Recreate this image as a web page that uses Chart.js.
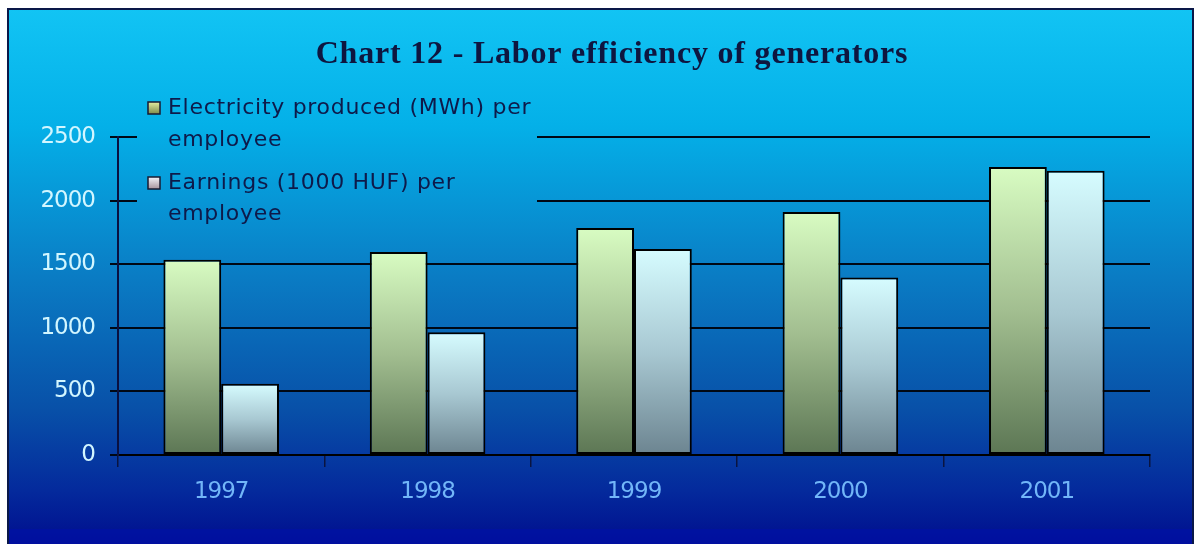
<!DOCTYPE html>
<html>
<head>
<meta charset="utf-8">
<script src="https://cdn.jsdelivr.net/npm/chart.js@4.4.1/dist/chart.umd.min.js"></script>
<style>
  html, body { margin: 0; padding: 0; background: #ffffff; }
  #wrap { width: 1195px; height: 544px; }
</style>
</head>
<body>
<div id="wrap"><canvas id="c" width="1195" height="544"></canvas></div>
<script>
// ---- data ----
const categories = ['1997', '1998', '1999', '2000', '2001'];
const electricityPerEmployee = [1535, 1595, 1785, 1910, 2265];
const earningsPerEmployee = [560, 965, 1620, 1395, 2235];
const seriesNames = ['Electricity produced (MWh) per employee', 'Earnings (1000 HUF) per employee'];
const legendLines = [['Electricity produced (MWh) per', 'employee'], ['Earnings (1000 HUF) per', 'employee']];
const yTicks = [0, 500, 1000, 1500, 2000, 2500];
const titleText = 'Chart 12 - Labor efficiency of generators';

// ---- styling helpers ----
function bgGradient(ctx) {
  const g = ctx.createLinearGradient(0, 8, 0, 544);
  g.addColorStop(0.0, '#12C4F4');
  g.addColorStop(0.22, '#04B0E8');
  g.addColorStop(0.5, '#0A7CC4');
  g.addColorStop(0.75, '#0850A8');
  g.addColorStop(0.9, '#042A9C');
  g.addColorStop(1.0, '#000E8E');
  return g;
}

function barGradient(topColor, midColor, bottomColor) {
  return function (c) {
    const chart = c.chart;
    if (!chart.chartArea || c.type !== 'data' || !chart.scales.y) return midColor;
    const ys = chart.scales.y;
    const y0 = ys.getPixelForValue(c.raw);
    const y1 = ys.getPixelForValue(0);
    if (!isFinite(y0) || !isFinite(y1) || y0 === y1) return midColor;
    const g = chart.ctx.createLinearGradient(0, y0, 0, y1);
    g.addColorStop(0, topColor);
    g.addColorStop(0.5, midColor);
    g.addColorStop(1, bottomColor);
    return g;
  };
}

const backgroundPlugin = {
  id: 'bgFrame',
  beforeDraw(chart) {
    const ctx = chart.ctx;
    ctx.save();
    ctx.fillStyle = '#ffffff';
    ctx.fillRect(0, 0, chart.width, chart.height);
    ctx.fillStyle = bgGradient(ctx);
    ctx.fillRect(7, 8, 1186, 536);
    ctx.fillStyle = 'rgba(0,16,170,0.6)';
    ctx.fillRect(7, 529, 1186, 15);
    ctx.strokeStyle = '#0A1848';
    ctx.lineWidth = 2;
    ctx.beginPath();
    ctx.moveTo(8, 544); ctx.lineTo(8, 9); ctx.lineTo(1193, 9); ctx.lineTo(1193, 544);
    ctx.stroke();
    ctx.restore();
    // narrower spacing for axis labels (drawn by the scales after this)
    ctx.letterSpacing = '-1px';
  }
};

const titleLegendPlugin = {
  id: 'titleLegend',
  afterDraw(chart) {
    const ctx = chart.ctx;
    ctx.save();
    // title
    ctx.fillStyle = '#0E1640';
    ctx.font = 'bold 32px "Liberation Serif", "DejaVu Serif", serif';
    ctx.letterSpacing = '0.8px';
    ctx.textAlign = 'center';
    ctx.textBaseline = 'middle';
    ctx.fillText(titleText, 612, 55);

    // legend background (hides gridlines behind it)
    ctx.letterSpacing = '0px';
    ctx.fillStyle = bgGradient(ctx);
    ctx.fillRect(137, 92, 400, 140);

    const markerStyles = [
      ['#E4EEA0', '#7E8A4C'],
      ['#F4F4FA', '#A8929C']
    ];
    const rowY = [[108, 140], [183, 214]];
    ctx.font = '22px "DejaVu Sans", sans-serif';
    ctx.letterSpacing = '0.7px';
    ctx.textAlign = 'left';
    ctx.textBaseline = 'middle';
    for (let i = 0; i < legendLines.length; i++) {
      const my = rowY[i][0];
      const g = ctx.createLinearGradient(0, my - 6, 0, my + 6);
      g.addColorStop(0, markerStyles[i][0]);
      g.addColorStop(1, markerStyles[i][1]);
      ctx.fillStyle = g;
      ctx.fillRect(148, my - 6, 12, 12);
      ctx.strokeStyle = '#1A1A30';
      ctx.lineWidth = 1.5;
      ctx.strokeRect(148, my - 6, 12, 12);
      ctx.fillStyle = '#0E1A4A';
      for (let j = 0; j < legendLines[i].length; j++) {
        ctx.fillText(legendLines[i][j], 168, rowY[i][j]);
      }
    }
    ctx.restore();
    ctx.letterSpacing = '0px';
  }
};

const ctx = document.getElementById('c').getContext('2d');
new Chart(ctx, {
  type: 'bar',
  data: {
    labels: categories,
    datasets: [
      {
        label: seriesNames[0],
        data: electricityPerEmployee,
        backgroundColor: barGradient('#D8FCC2', '#A2BE90', '#5C7654'),
        borderColor: '#000000',
        borderWidth: 2,
        borderSkipped: false,
        categoryPercentage: 0.56,
        barPercentage: 1.0
      },
      {
        label: seriesNames[1],
        data: earningsPerEmployee,
        backgroundColor: barGradient('#D6FCFF', '#A8C8D2', '#6C8490'),
        borderColor: '#000000',
        borderWidth: 2,
        borderSkipped: false,
        categoryPercentage: 0.56,
        barPercentage: 1.0
      }
    ]
  },
  options: {
    responsive: false,
    animation: false,
    devicePixelRatio: 1,
    layout: { padding: { top: 137, right: 45, left: 0, bottom: 0 } },
    plugins: {
      legend: { display: false },
      title: { display: false },
      tooltip: { enabled: false }
    },
    scales: {
      x: {
        afterFit(scale) { scale.height = 89; },
        grid: {
          offset: true,
          drawOnChartArea: false,
          drawTicks: true,
          tickLength: 12,
          color: '#0A1440',
          lineWidth: 1.5
        },
        border: { display: true, color: '#000000', width: 2 },
        ticks: {
          color: '#72B6F8',
          font: { family: '"DejaVu Sans", sans-serif', size: 23 },
          padding: 11
        }
      },
      y: {
        min: 0,
        max: 2500,
        afterFit(scale) { scale.width = 118; },
        afterBuildTicks(scale) { scale.ticks = yTicks.map(v => ({ value: v })); },
        grid: {
          color: '#000814',
          lineWidth: 2,
          drawTicks: true,
          tickLength: 8
        },
        border: { display: true, color: '#0A1040', width: 2 },
        ticks: {
          color: '#D2F6FF',
          font: { family: '"DejaVu Sans", sans-serif', size: 23 },
          padding: 15,
          callback: (v) => String(v)
        }
      }
    }
  },
  plugins: [backgroundPlugin, titleLegendPlugin]
});
</script>
</body>
</html>
